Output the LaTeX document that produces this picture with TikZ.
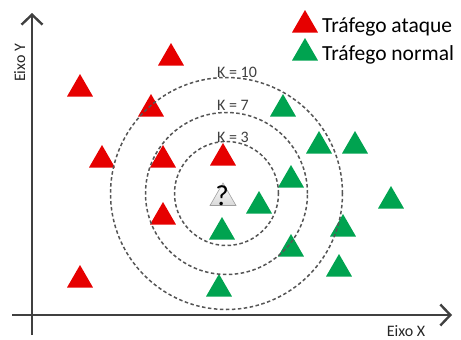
\documentclass[tikz,border=0pt]{standalone}
\usepackage{fontspec}
\setmainfont{Carlito}
\usetikzlibrary{shapes.geometric,arrows.meta}
\definecolor{atkred}{RGB}{230,0,0}
\definecolor{normgreen}{RGB}{0,163,80}
\definecolor{axisgray}{RGB}{64,64,64}
\definecolor{ringgray}{RGB}{85,85,85}
\tikzset{
  tri/.style={regular polygon, regular polygon sides=3, minimum size=30pt, inner sep=0pt, outer sep=0pt},
  attack/.style={tri, fill=atkred},
  normal/.style={tri, fill=normgreen},
  unknown/.style={tri, top color=white, bottom color=gray!30, draw=gray!75, line width=0.6pt},
  axisline/.style={draw=axisgray, line width=2.4pt, -{Straight Barb[length=10pt,width=21pt,line width=2.4pt]}},
  ring/.style={draw=ringgray, line width=1.5pt, dash pattern=on 3.5pt off 2.5pt},
  klabel/.style={anchor=base west, inner sep=0pt, text=axisgray, font=\fontsize{16}{18}\selectfont},
  axlabel/.style={anchor=base, inner sep=0pt, text=black!85, font=\fontsize{16}{18}\selectfont},
  legendtext/.style={anchor=base west, inner sep=0pt, font=\fontsize{21.5}{24}\selectfont},
}
\begin{document}
\begin{tikzpicture}[x=1pt,y=-1pt]
\useasboundingbox (0,0) rectangle (461,340);
% axes
\coordinate (ybot) at (32,335);
\coordinate (ytop) at (32,13);
\coordinate (xleft) at (12,315);
\coordinate (xright) at (452,315);
\draw[axisline] (ybot) -- (ytop);
\draw[axisline] (xleft) -- (xright);
\node[axlabel] (xlab) at (406,336) {Eixo X};
\node[axlabel, rotate=90] (ylab) at (25,63) {Eixo Y};
% attack triangles
\node[attack] (r1) at (171,58) {};
\node[attack] (r2) at (80,89) {};
\node[attack] (r3) at (151,109) {};
\node[attack] (r4) at (102,160) {};
\node[attack] (r5) at (163,160) {};
\node[attack] (r6) at (223,158) {};
\node[attack] (r7) at (163,217) {};
\node[attack] (r8) at (80,280) {};
% normal triangles
\node[normal] (g1) at (283,109) {};
\node[normal] (g2) at (319,146) {};
\node[normal] (g3) at (355,146) {};
\node[normal] (g4) at (291,180) {};
\node[normal] (g5) at (391,201) {};
\node[normal] (g6) at (259,206) {};
\node[normal] (g7) at (222,232) {};
\node[normal] (g8) at (343,229) {};
\node[normal] (g9) at (291,249) {};
\node[normal] (g10) at (339,269) {};
\node[normal] (g11) at (219,289) {};
% unknown sample
\node[unknown] (q) at (223,198) {};
\node[anchor=base, inner sep=0pt, font=\fontsize{29}{30}\selectfont] (qmark) at (222,205) {?};
% rings
\coordinate (c) at (226.5,193.5);
\draw[ring] (c) circle[radius=52pt];
\draw[ring] (c) circle[radius=81pt];
\draw[ring] (c) circle[radius=116pt];
\node[klabel] (k10) at (217,77) {K = 10};
\node[klabel] (k7) at (217,110) {K = 7};
\node[klabel] (k3) at (217,142) {K = 3};
% legend
\node[attack] (la) at (305,25) {};
\node[normal] (ln) at (305,53) {};
\node[legendtext] (lat) at (322,32) {Tráfego ataque};
\node[legendtext] (lnt) at (322,60) {Tráfego normal};
\end{tikzpicture}
\end{document}
